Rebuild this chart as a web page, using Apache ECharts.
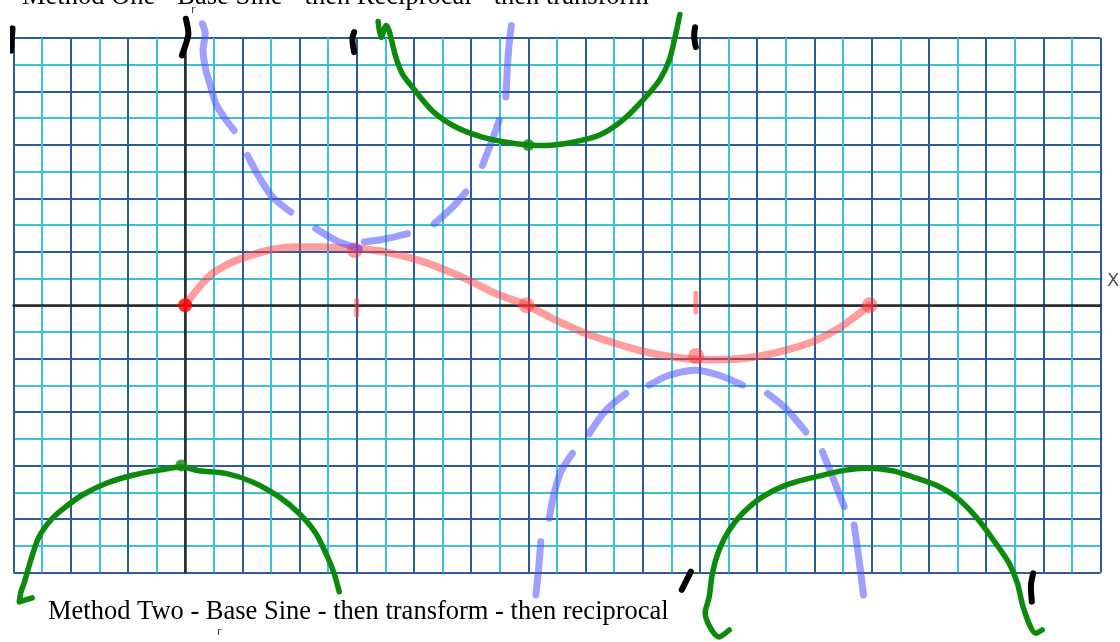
<!DOCTYPE html>
<html>
<head>
<meta charset="utf-8">
<script src="https://cdn.jsdelivr.net/npm/echarts@6/dist/echarts.min.js"></script>
<style>
  html, body { margin: 0; padding: 0; background: #ffffff; }
  #chart { width: 1120px; height: 642px; }
</style>
</head>
<body>
<div id="chart"></div>
<script>
// Graph paper: x in degrees (one small square = 15°), y in grid units.
const xRange = [-90, 480];
const xMajorStep = 30;
const yRange = [-10, 10];
const yMajorStep = 2;

const titleTop = 'Method One - Base Sine - then Reciprocal - then transform';
const titleBottom = 'Method Two - Base Sine - then transform - then reciprocal';

// Base sine curve (red), sketched through its key points
const sineCurve = [[0,0],[7.3,0.68],[14.3,1.19],[23.1,1.56],[31.8,1.81],[44,2.06],[58,2.18],[72,2.18],
  [89.5,2.12],[105.2,1.99],[122.7,1.68],[136.7,1.31],[148.9,0.93],[162.9,0.44],[179,0],
  [194.4,-0.56],[210.1,-1.06],[225.8,-1.43],[241.6,-1.75],[255.5,-1.93],[269.5,-2.03],[283.5,-2.03],
  [299.3,-1.93],[315,-1.68],[328.9,-1.37],[341.2,-0.93],[349.9,-0.5],[359,0]];
const sineStart = [[0, 0]];
const sineKeyPoints = [[89,2.06],[179,0],[268,-1.9],[359,0]];
const sineTicks = [
  [[90,0.19],[90,-0.37]],
  [[267.8,0.45],[267.8,-0.26]]
];

// Reciprocal of the base sine (blue, dashed strokes)
const recipDashes = [
  [[9.1,10.53],[10.5,10.16],[9.4,9.53],[10.9,8.79],[13.5,8.16],[16.1,7.54],[20.4,7.04],[25.7,6.54]],
  [[32.7,5.61],[38.8,4.8],[45.8,4.05],[55.4,3.49]],
  [[68.5,2.87],[79,2.43],[91.2,2.12]],
  [[93.9,2.37],[105.2,2.49],[116.6,2.68]],
  [[130.6,3.05],[140.2,3.67],[147.2,4.24]],
  [[155.9,5.23],[160.3,6.04],[164.7,6.92]],
  [[168.2,7.79],[169,8.91],[169.9,9.78],[171.1,10.47]],
  [[183.9,-10.84],[185.3,-9.91],[186.5,-8.85]],
  [[190.9,-7.97],[193.5,-7.04],[197,-6.23],[203.1,-5.54]],
  [[211.9,-4.8],[220.6,-3.93],[231.1,-3.3]],
  [[243.3,-2.99],[253.8,-2.62],[267.8,-2.43],[280,-2.62],[292.2,-2.99]],
  [[305.4,-3.3],[315,-3.86],[325.5,-4.74]],
  [[334.2,-5.48],[339.5,-6.42],[345.6,-7.54]],
  [[350.8,-8.22],[353.4,-9.53],[355.7,-10.84]]
];

// Transformed reciprocal (green)
const transUpper = [[101.2,10.62],[102.8,10.02],[105.4,10.47],[110.5,9.28],[113.9,8.66],[119.2,8.16],
  [129.7,7.27],[141.9,6.67],[155.9,6.29],[168.2,6.1],[180,6],[189.1,5.98],[203.1,6.1],[217.1,6.36],
  [229.3,6.92],[239.8,7.66],[248.6,8.41],[253.8,9.16],[257.3,10.16],[259.4,10.88]];
const transLowerLeft = [[-80.2,-10.95],[-87,-11.1],[-86,-10.7],[-84.4,-10.39],[-80.9,-9.53],[-76.6,-8.66],
  [-69.6,-7.97],[-62.6,-7.54],[-53.9,-7.1],[-41.6,-6.67],[-27.6,-6.36],[-13.6,-6.17],[-2,-6.05],
  [7.3,-6.19],[21.3,-6.29],[35.3,-6.61],[49.3,-7.17],[59.8,-7.79],[68.5,-8.53],[74.6,-9.41],
  [78.1,-10.03],[80.8,-10.72]];
const transLowerRight = [[285.3,-12.15],[280,-12.41],[272.7,-11.51],[274.8,-10.92],[276.5,-10.03],
  [280,-9.16],[285.3,-8.41],[292.2,-7.79],[302.7,-7.17],[315,-6.73],[330.7,-6.42],[346.5,-6.17],
  [356.9,-6.1],[370.9,-6.19],[381.4,-6.42],[393.6,-6.73],[404.1,-7.17],[414.6,-7.91],[425.1,-8.91],
  [432.1,-9.66],[436.4,-10.4],[439.9,-11.4],[446.1,-12.27],[449.4,-12.15]];
const transVertices = [[180,6],[-2,-6]];

// Asymptote marks (black)
const asymptoteMarks = [
  [[-90.5,10.36],[-90.9,9.95],[-91.2,9.53]],
  [[0.4,10.72],[1.7,10.16],[0.4,9.78],[-1.7,9.35]],
  [[88.6,10.22],[87.7,9.97],[88.6,9.47]],
  [[267.4,10.4],[266.9,10.09],[267.8,9.66]],
  [[265.2,-9.97],[260.4,-10.65]],
  [[444.7,-10.03],[443.5,-10.53],[444,-11.09]]
];

const RED = 'rgba(255,60,60,0.5)';
const BLUE = 'rgba(80,80,255,0.55)';
const GREEN = '#0b8a0b';

const series = [];
function addLine(points, color, width, z, smooth) {
  series.push({
    type: 'line', data: points, showSymbol: false, clip: false, silent: true,
    smooth: smooth, z: z, animation: false,
    lineStyle: { color: color, width: width, cap: 'round', join: 'round' }
  });
}
function addDots(points, color, size, z) {
  series.push({
    type: 'scatter', data: points, clip: false, silent: true, z: z,
    symbol: 'circle', symbolSize: size, itemStyle: { color: color }
  });
}

addLine(sineCurve, RED, 7.5, 3, 0.3);
sineTicks.forEach(t => addLine(t, RED, 5, 3, false));
addDots(sineKeyPoints, 'rgba(255,50,50,0.6)', 16, 3);
addDots(sineStart, '#ff0000', 14, 4);
recipDashes.forEach(d => addLine(d, BLUE, 7, 4, 0.3));
addLine(transUpper, GREEN, 5.5, 5, 0.3);
addLine(transLowerLeft, GREEN, 5.5, 5, 0.3);
addLine(transLowerRight, GREEN, 5.5, 5, 0.3);
addDots(transVertices, GREEN, 12, 5);
asymptoteMarks.forEach(m => addLine(m, '#000000', 6, 6, 0.3));

const gridAxis = (range, step) => ({
  type: 'value', min: range[0], max: range[1], interval: step,
  axisLine: { show: true, onZero: true, lineStyle: { color: '#2a2a2a', width: 2.5 } },
  axisTick: { show: false }, axisLabel: { show: false },
  splitLine: { show: true, lineStyle: { color: '#2b5d9e', width: 2 } },
  minorTick: { show: false, splitNumber: 2 },
  minorSplitLine: { show: true, lineStyle: { color: '#3bbfdd', width: 2 } }
});

const chart = echarts.init(document.getElementById('chart'), null, { renderer: 'canvas' });
chart.setOption({
  animation: false,
  backgroundColor: '#ffffff',
  grid: { left: 13.5, right: 19.5, top: 38, bottom: 69.5, containLabel: false },
  xAxis: gridAxis(xRange, xMajorStep),
  yAxis: gridAxis(yRange, yMajorStep),
  graphic: [
    { type: 'text', x: 22, y: 11, z: 10, style: { text: titleTop, font: '26.5px "Liberation Serif"', fill: '#000', verticalAlign: 'bottom' } },
    { type: 'text', x: 48, y: 626, z: 10, style: { text: titleBottom, font: '26.5px "Liberation Serif"', fill: '#000', verticalAlign: 'bottom' } },
    { type: 'text', x: 191, y: 10, z: 10, style: { text: 'r', font: '11px "DejaVu Sans"', fill: '#444', verticalAlign: 'middle' } },
    { type: 'text', x: 217, y: 632, z: 10, style: { text: 'r', font: '11px "DejaVu Sans"', fill: '#444', verticalAlign: 'middle' } },
    { type: 'text', x: 1107, y: 281, z: 10, style: { text: 'X', font: '18px "DejaVu Sans"', fill: '#555', verticalAlign: 'middle' } }
  ],
  series: series
});
</script>
</body>
</html>
